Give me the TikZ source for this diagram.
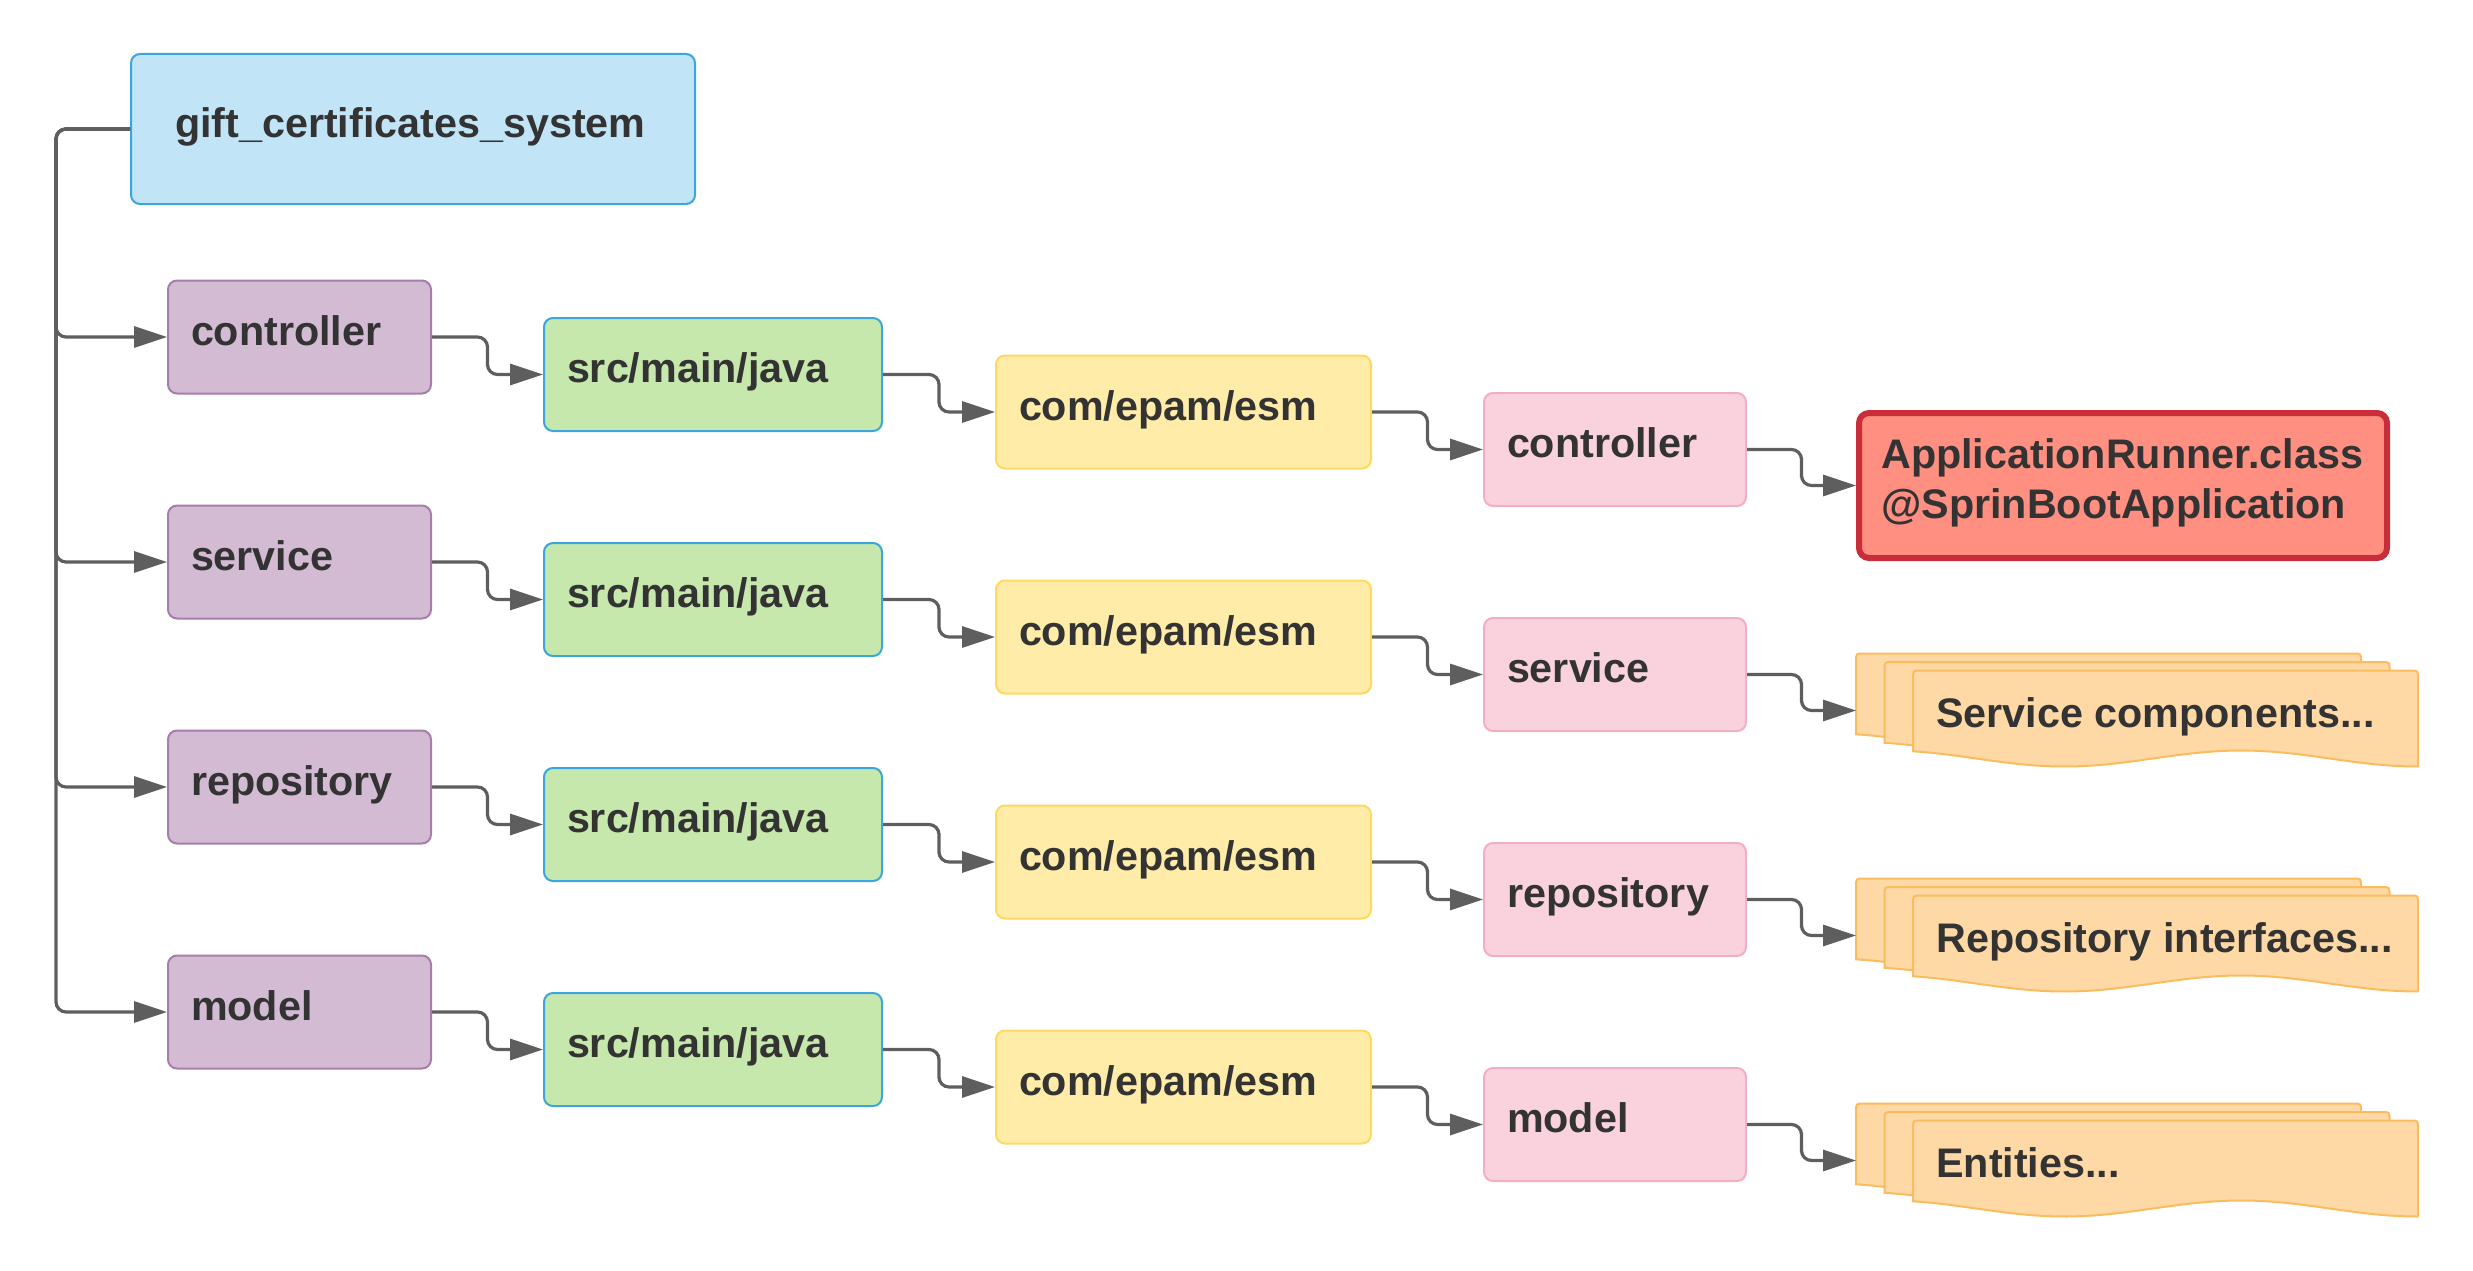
\documentclass[tikz,border=0pt]{standalone}
\usepackage{fontspec}
\setmainfont{Liberation Sans}
\usetikzlibrary{arrows.meta,calc}
\hyphenpenalty=10000
\exhyphenpenalty=10000
\definecolor{txt}{HTML}{333333}
\definecolor{lc}{HTML}{5E5E5E}
\definecolor{giftF}{HTML}{C1E4F7}\definecolor{giftD}{HTML}{3AA6DD}
\definecolor{purF}{HTML}{D3BBD3}\definecolor{purD}{HTML}{A77DAA}
\definecolor{grnF}{HTML}{C7E8AC}\definecolor{grnD}{HTML}{3AA6DD}
\definecolor{yelF}{HTML}{FFECA9}\definecolor{yelD}{HTML}{FFD95E}
\definecolor{pnkF}{HTML}{F9D2DE}\definecolor{pnkD}{HTML}{F2AEC4}
\definecolor{redF}{HTML}{FF8F80}\definecolor{redD}{HTML}{C92D39}
\definecolor{stkF}{HTML}{FFD9A5}\definecolor{stkD}{HTML}{FBBC5E}
\begin{document}
\begin{tikzpicture}[x=1pt,y=-1pt,
  lbl/.style={font=\fontsize{41.3}{50}\bfseries\selectfont, text=txt},
  boxbase/.style={lbl, draw, rounded corners=9pt, line width=2pt, inner xsep=23pt, inner ysep=0pt,
    text height=28.9pt, text depth=12.4pt, align=left, minimum height=113pt},
  giftbox/.style={boxbase, fill=giftF, draw=giftD, inner xsep=44pt, text width=476pt, minimum height=150pt},
  purbox/.style={boxbase, fill=purF, draw=purD, text width=217pt},
  grnbox/.style={boxbase, fill=grnF, draw=grnD, text width=292pt},
  yelbox/.style={boxbase, fill=yelF, draw=yelD, text width=329pt},
  pnkbox/.style={boxbase, fill=pnkF, draw=pnkD, text width=216pt},
  redbox/.style={draw=redD, fill=redF, line width=6pt, rounded corners=10pt, minimum width=528pt, minimum height=145pt, inner sep=0pt},
  conn/.style={draw=lc, line width=3.2pt, rounded corners=10pt, -{Triangle[length=33pt,width=21pt]}},
  stackshape/.style={draw=stkD, fill=stkF, line width=2pt},
  docpage/.pic={
    \draw[stackshape] (0,80) -- (0,8) .. controls (0,0) .. (8,0) -- (497,0) .. controls (505,0) .. (505,8) -- (505,96)
      -- plot[domain=505:0, samples=60] (\x,{88+8*cos((\x-151.5)*1.01839)}) -- cycle;
  }
]
\useasboundingbox (0,0) rectangle (2473,1271);

% root
\node[giftbox] (gift) at (413,129) {gift\_certificates\_system};
\coordinate (trunk) at (56,129);

% modules
\node[purbox] (c1) at (299.5,337) {controller};
\node[purbox] (c2) at (299.5,562) {service};
\node[purbox] (c3) at (299.5,787) {repository};
\node[purbox] (c4) at (299.5,1012) {model};

\node[grnbox] (g1) at (713,374.5) {src/main/java};
\node[grnbox] (g2) at (713,599.5) {src/main/java};
\node[grnbox] (g3) at (713,824.5) {src/main/java};
\node[grnbox] (g4) at (713,1049.5) {src/main/java};

\node[yelbox] (y1) at (1183.5,412) {com/epam/esm};
\node[yelbox] (y2) at (1183.5,637) {com/epam/esm};
\node[yelbox] (y3) at (1183.5,862) {com/epam/esm};
\node[yelbox] (y4) at (1183.5,1087) {com/epam/esm};

\node[pnkbox] (p1) at (1615,449.5) {controller};
\node[pnkbox] (p2) at (1615,674.5) {service};
\node[pnkbox] (p3) at (1615,899.5) {repository};
\node[pnkbox] (p4) at (1615,1124.5) {model};

% application runner
\node[redbox] (runner) at (2123,485.5) {};
\node[lbl, anchor=north west, align=left, inner sep=0pt] (runnertext) at (1881,438)
  {ApplicationRunner.class\\@SprinBootApplication};

% stacks
\foreach \A/\nm in {710.5/s2, 935.5/s3, 1160.5/s4}{
  \pic at (1856,\A-57) {docpage};
  \pic at (1884.5,\A-48.5) {docpage};
  \pic at (1913,\A-40) {docpage};
  \coordinate (\nm) at (1856,\A);
}
\node[lbl, anchor=base west, inner sep=0pt] (t2) at (1936,727.5) {Service components...};
\node[lbl, anchor=base west, inner sep=0pt] (t3) at (1936,952.5) {Repository interfaces...};
\node[lbl, anchor=base west, inner sep=0pt] (t4) at (1936,1177.5) {Entities...};

% trunk connectors
\foreach \c in {c1,c2,c3,c4}{
  \draw[conn] (gift.west) -- (trunk) |- (\c.west);
}

% chain connectors
\foreach \i in {1,2,3,4}{
  \draw[conn] (c\i.east) -| ($(c\i.east)!.5!(g\i.west)$) |- (g\i.west);
  \draw[conn] (g\i.east) -| ($(g\i.east)!.5!(y\i.west)$) |- (y\i.west);
  \draw[conn] (y\i.east) -| ($(y\i.east)!.5!(p\i.west)$) |- (p\i.west);
}
\draw[conn] (p1.east) -| ($(p1.east)!.5!(runner.west)$) |- (runner.west);
\foreach \i in {2,3,4}{
  \draw[conn] (p\i.east) -| ($(p\i.east)!.5!(s\i)$) |- (s\i);
}
\end{tikzpicture}
\end{document}
